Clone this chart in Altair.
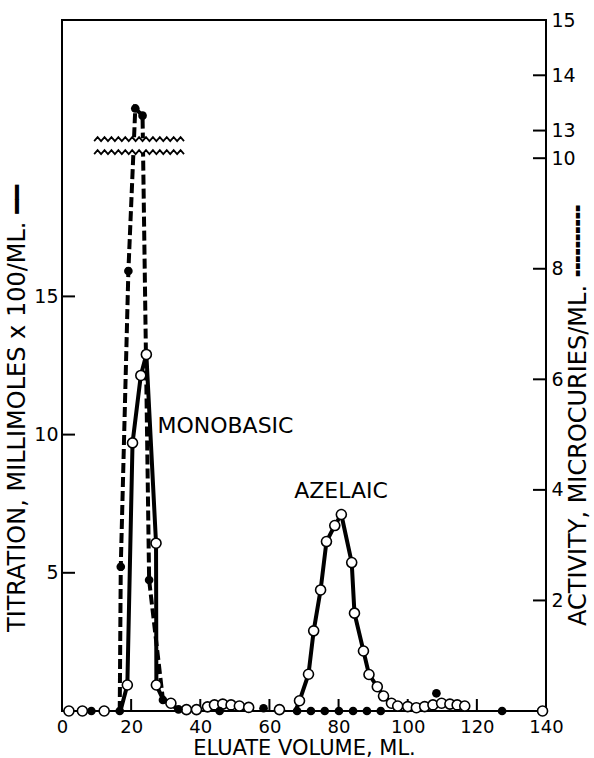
import altair as alt
import pandas as pd
import numpy as np

FONT = "DejaVu Sans"

# ---- titration (open circles, solid line), millimoles x 100 / ml ----
titr_v = [2.0, 5.9, 12.2, 18.9, 20.4, 22.8, 24.4, 27.2, 27.3, 31.5, 36.0, 38.9,
          42.1, 44.1, 46.5, 48.9, 51.3, 54.0, 62.9, 68.7, 71.3, 72.8, 74.8, 76.5,
          78.9, 80.8, 83.8, 84.6, 87.2, 88.8, 91.2, 93.0, 95.3, 97.1, 100.0, 102.5,
          104.9, 107.3, 109.8, 112.2, 114.3, 116.5, 139.0]
titr_t = [0, 0, 0, 0.94, 9.7, 12.14, 12.9, 6.07, 0.94, 0.28, 0.05, 0.05,
          0.15, 0.22, 0.25, 0.22, 0.18, 0.13, 0.05, 0.37, 1.33, 2.9, 4.38, 6.13,
          6.71, 7.11, 5.37, 3.54, 2.17, 1.32, 0.88, 0.54, 0.28, 0.18, 0.16, 0.12,
          0.16, 0.22, 0.28, 0.25, 0.22, 0.18, 0]

# solid curves through the two titration peaks
mono_line_v = [16.9, 18.9, 20.4, 22.8, 24.4, 27.2, 27.3, 29.3, 31.5, 34.0]
mono_line_t = [0, 0.94, 9.7, 12.14, 12.9, 6.07, 0.94, 0.4, 0.28, 0]
aze_line_v = [67.5, 68.7, 71.3, 72.8, 74.8, 76.5, 78.9, 80.8, 83.8, 84.6, 87.2,
              88.8, 91.2, 93.0, 95.3, 97.1]
aze_line_t = [0, 0.37, 1.33, 2.9, 4.38, 6.13, 6.71, 7.11, 5.37, 3.54, 2.17,
              1.32, 0.88, 0.54, 0.28, 0.18]

# ---- activity (filled circles, dashed line), microcuries / ml ----
act_v = [8.5, 16.7, 17.0, 19.2, 21.2, 23.3, 25.2, 29.2, 33.7, 45.6, 58.3, 68.0,
         72.0, 76.0, 80.1, 84.2, 88.2, 92.2, 108.3, 127.3]
act_a = [0, 0, 2.61, 7.96, 13.4, 13.27, 2.37, 0.2, 0.03, 0, 0.05, 0,
         0, 0, 0, 0, 0, 0, 0.32, 0]
act_line_v = [16.7, 17.0, 19.2, 21.2, 23.3, 25.2, 29.2, 33.7]
act_line_a = [0, 2.61, 7.96, 13.4, 13.27, 2.37, 0.2, 0.03]

# axis ticks
x_ticks = [0, 20, 40, 60, 80, 100, 120, 140]
left_ticks = [5, 10, 15]
right_vals = [2, 4, 6, 8, 10, 13, 14, 15]
right_labels = ["2", "4", "6", "8", "10", "13", "14", "15"]

# annotations
ann_v = [27.6, 80.7]
ann_t = [10.3, 7.97]
ann_text = ["MONOBASIC", "AZELAIC"]
ann_align = ["left", "center"]

# broken right axis: 0-10 and 13-15, plotted on the titration scale (x2)
def act_to_plot(a):
    return 2 * a if a <= 10 else 2 * a - 5

W, H = 484, 691
x_scale = alt.Scale(domain=[0, 140], nice=False, zero=False)
y_scale = alt.Scale(domain=[0, 25], nice=False)

df_titr = pd.DataFrame({"v": titr_v, "t": titr_t})
df_tline = pd.concat([
    pd.DataFrame({"v": mono_line_v, "t": mono_line_t, "g": "mono", "o": range(len(mono_line_v))}),
    pd.DataFrame({"v": aze_line_v, "t": aze_line_t, "g": "aze", "o": range(len(aze_line_v))}),
])
df_act = pd.DataFrame({"v": act_v, "p": [act_to_plot(a) for a in act_a]})
df_aline = pd.DataFrame({"v": act_line_v, "p": [act_to_plot(a) for a in act_line_a],
                         "o": range(len(act_line_v))})

right_pos = [act_to_plot(a) for a in right_vals]
label_expr = ""
for pos, lab in zip(right_pos, right_labels):
    label_expr += f"datum.value == {pos} ? '{lab}' : "
label_expr += "''"

x_axis = alt.Axis(values=x_ticks, ticks=False, domain=False, grid=False,
                  labelFont=FONT, labelFontSize=18, labelPadding=7, labelColor="black",
                  labelFlush=False,
                  title="ELUATE VOLUME, ML.", titleFont=FONT, titleFontSize=21,
                  titleFontWeight="normal", titleColor="black", titlePadding=1)
left_axis = alt.Axis(values=left_ticks, ticks=False, domain=False, grid=False,
                     orient="left", labelFont=FONT, labelFontSize=19, labelPadding=4,
                     labelColor="black",
                     title="TITRATION, MILLIMOLES x 100/ML. ━━", titleFont=FONT,
                     titleFontSize=24, titleFontWeight="normal", titleColor="black",
                     titleAngle=270, titleAlign="center", titleBaseline="middle",
                     titleX=-45, titleY=388)
right_axis = alt.Axis(values=right_pos, ticks=False, domain=False, grid=False,
                      orient="right", labelFont=FONT, labelFontSize=19, labelPadding=5,
                      labelColor="black", labelExpr=label_expr, labelOverlap=False,
                      labelFlush=False,
                      title="ACTIVITY, MICROCURIES/ML. ╍╍╍╍╍", titleFont=FONT,
                      titleFontSize=24, titleFontWeight="normal", titleColor="black",
                      titleAngle=270, titleAlign="center", titleBaseline="middle",
                      titleX=32, titleY=395)

X = alt.X("v:Q", scale=x_scale, axis=x_axis)

# lines
titr_line = alt.Chart(df_tline).mark_line(color="black", strokeWidth=4).encode(
    x=X, y=alt.Y("t:Q", scale=y_scale, axis=None),
    detail="g:N", order="o:Q")
act_line = alt.Chart(df_aline).mark_line(color="black", strokeWidth=4, strokeDash=[10, 4]).encode(
    x=X, y=alt.Y("p:Q", scale=y_scale, axis=None),
    order="o:Q")

# axis break
brk_x = list(np.round(np.arange(9.3, 35.5, 1.0), 2))
brk_rows = []
for lvl, yc in (("lo", 20.22), ("hi", 20.69)):
    for i, xv in enumerate(brk_x):
        brk_rows.append({"v": xv, "t": yc + (0.07 if i % 2 else -0.07), "g": lvl, "o": i})
df_brk = pd.DataFrame(brk_rows)
df_band = pd.DataFrame({"v": [brk_x[0]], "v2": [brk_x[-1]], "t": [20.2], "t2": [20.72]})
band = alt.Chart(df_band).mark_rect(color="white").encode(
    x=X, x2="v2:Q",
    y=alt.Y("t:Q", scale=y_scale, axis=None), y2="t2:Q")
zig = alt.Chart(df_brk).mark_line(color="black", strokeWidth=1.8).encode(
    x=X, y=alt.Y("t:Q", scale=y_scale, axis=None),
    detail="g:N", order="o:Q")

# points
titr_pts = alt.Chart(df_titr).mark_point(shape="circle", filled=True, fill="white",
                                         stroke="black", strokeWidth=1.6, size=100,
                                         opacity=1).encode(
    x=X, y=alt.Y("t:Q", scale=y_scale, axis=left_axis))
act_pts = alt.Chart(df_act).mark_point(shape="circle", filled=True, color="black",
                                       size=75, opacity=1).encode(
    x=X, y=alt.Y("p:Q", scale=y_scale, axis=right_axis))

# inward tick marks
df_xt = pd.DataFrame({"v": x_ticks[1:-1]})
df_lt = pd.DataFrame({"t": left_ticks})
df_rt = pd.DataFrame({"t": right_pos[:-1]})
xt = alt.Chart(df_xt).mark_rule(color="black", strokeWidth=2).encode(
    x=X, y=alt.value(H), y2=alt.value(H - 12))
lt = alt.Chart(df_lt).mark_rule(color="black", strokeWidth=2).encode(
    y=alt.Y("t:Q", scale=y_scale, axis=None), x=alt.value(0), x2=alt.value(13))
rt = alt.Chart(df_rt).mark_rule(color="black", strokeWidth=2).encode(
    y=alt.Y("t:Q", scale=y_scale, axis=None), x=alt.value(W - 13), x2=alt.value(W))

# annotations
df_ann = pd.DataFrame({"v": ann_v, "t": ann_t, "text": ann_text, "al": ann_align})
ann_l = alt.Chart(df_ann[df_ann.al == "left"]).mark_text(
    font=FONT, fontSize=22, align="left", baseline="middle", color="black").encode(
    x=X, y=alt.Y("t:Q", scale=y_scale, axis=None), text="text:N")
ann_c = alt.Chart(df_ann[df_ann.al == "center"]).mark_text(
    font=FONT, fontSize=22, align="center", baseline="middle", color="black").encode(
    x=X, y=alt.Y("t:Q", scale=y_scale, axis=None), text="text:N")

chart = alt.layer(
    titr_line, act_line, band, zig, xt, lt, rt, titr_pts, act_pts, ann_l, ann_c
).resolve_axis(y="independent").properties(
    width=W, height=H,
    autosize=alt.AutoSizeParams(type="none"),
    padding={"left": 62, "top": 20, "right": 48, "bottom": 47},
    background="white",
).configure_view(stroke="black", strokeWidth=2)

chart.save("out.html", embed_options={"renderer": "svg", "actions": False})
